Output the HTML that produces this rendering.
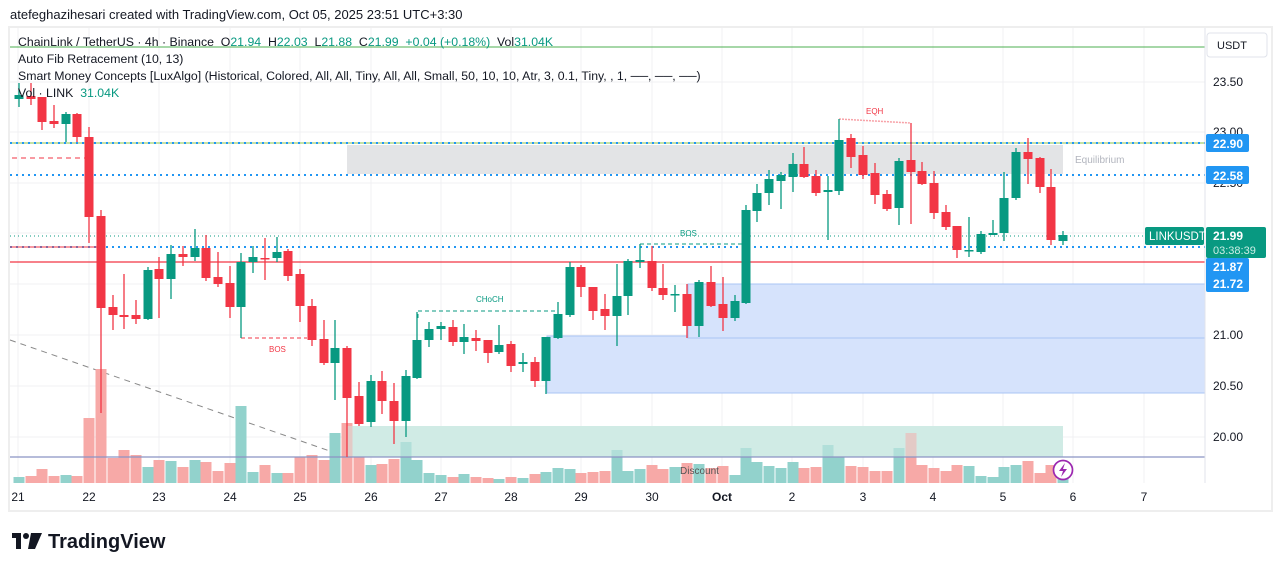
<!DOCTYPE html>
<html><head><meta charset="utf-8"><style>
body{margin:0;background:#fff;width:1281px;height:571px;overflow:hidden;font-family:"Liberation Sans",sans-serif}
svg{position:absolute;left:0;top:0}
text{white-space:pre}
</style></head><body>
<svg id="s" width="1281" height="571" xmlns="http://www.w3.org/2000/svg" font-family="Liberation Sans, sans-serif">
<text x="10" y="19" font-size="13" fill="#131722">atefeghazihesari created with TradingView.com, Oct 05, 2025 23:51 UTC+3:30</text>
<rect x="9" y="27" width="1263" height="484" fill="none" stroke="#eeeeee" stroke-width="2"/>
<g id="grid" stroke="#f0f1f3" stroke-width="1"></g>
<rect x="347" y="145" width="716" height="29" fill="#e3e4e6"/>
<text x="1075" y="163" font-size="10" fill="#b2b5be">Equilibrium</text>
<rect x="547" y="336" width="658" height="57" fill="#d6e3fc" stroke="#a9c4f5"/>
<rect x="688" y="284" width="517" height="54" fill="#d6e3fc" stroke="#a9c4f5"/>
<rect x="347" y="426" width="716" height="31" fill="#d0ebe5"/>
<line x1="10" y1="340" x2="347" y2="457" stroke="#888" stroke-dasharray="6,5"/>
<g id="vol"></g>
<rect x="347" y="426" width="716" height="31" fill="#d0ebe5" opacity="0.5"/>
<line x1="10" y1="457" x2="1205" y2="457" stroke="#8b93c4" stroke-width="1.3"/>
<text x="680" y="474" font-size="10" fill="#555">Discount</text>
<line x1="10" y1="47" x2="1205" y2="47" stroke="#4caf50"/>
<line x1="10" y1="143" x2="1205" y2="143" stroke="#8bc34a" stroke-width="1"/>
<line x1="10" y1="143" x2="1205" y2="143" stroke="#2196f3" stroke-width="2" stroke-dasharray="2,4"/>
<line x1="10" y1="175" x2="1205" y2="175" stroke="#2196f3" stroke-width="2" stroke-dasharray="2,4"/>
<line x1="10" y1="236" x2="1205" y2="236" stroke="#089981" stroke-dasharray="1,3"/>
<line x1="10" y1="247" x2="1205" y2="247" stroke="#2196f3" stroke-width="2" stroke-dasharray="2,4"/>
<line x1="10" y1="247" x2="100" y2="247" stroke="#f23645"/>
<line x1="10" y1="262" x2="1205" y2="262" stroke="#f23645" stroke-width="1.3"/>
<line x1="12" y1="158" x2="85" y2="158" stroke="#f23645" stroke-dasharray="5,4"/>
<polyline points="418,318 418,311 558,311" fill="none" stroke="#089981" stroke-dasharray="4,3"/>
<text x="476" y="302" font-size="8" fill="#089981">CHoCH</text>
<polyline points="640,258 640,244 746,244" fill="none" stroke="#089981" stroke-dasharray="4,3"/>
<text x="680" y="236" font-size="8" fill="#089981">BOS</text>
<line x1="241" y1="338" x2="307" y2="338" stroke="#f23645" stroke-dasharray="4,3"/>
<text x="269" y="352" font-size="8" fill="#f23645">BOS</text>
<line x1="839" y1="119" x2="911" y2="123" stroke="#f7a1a7" stroke-width="1.5" stroke-dasharray="2,1"/>
<text x="866" y="114" font-size="8" fill="#f23645">EQH</text>
<g id="c"></g>
<text x="18" y="46" font-size="12.3" fill="#131722" xml:space="preserve">ChainLink / TetherUS · 4h · Binance  O<tspan fill="#089981">21.94</tspan>  H<tspan fill="#089981">22.03</tspan>  L<tspan fill="#089981">21.88</tspan>  C<tspan fill="#089981">21.99  +0.04 (+0.18%)</tspan>  Vol<tspan fill="#089981">31.04K</tspan></text>
<text x="18" y="63" font-size="12.3" fill="#131722">Auto Fib Retracement (10, 13)</text>
<text x="18" y="80" font-size="12.3" fill="#131722">Smart Money Concepts [LuxAlgo] (Historical, Colored, All, All, Tiny, All, All, Small, 50, 10, 10, Atr, 3, 0.1, Tiny, , 1, ──, ──, ──)</text>
<text x="18" y="97" font-size="12.3" fill="#131722" xml:space="preserve">Vol · LINK  <tspan fill="#089981">31.04K</tspan></text>
<line x1="1205" y1="28" x2="1205" y2="483" stroke="#e0e3eb"/>
<rect x="1207" y="33" width="60" height="24" rx="3" fill="#fff" stroke="#e0e3eb"/>
<text x="1217" y="49" font-size="11" fill="#131722">USDT</text>
<g font-size="12" fill="#131722">
<text x="1213" y="86">23.50</text><text x="1213" y="136">23.00</text><text x="1213" y="187">22.50</text>
<text x="1213" y="339">21.00</text><text x="1213" y="390">20.50</text><text x="1213" y="441">20.00</text>
</g>
<g font-size="12" fill="#131722" text-anchor="middle">
<text x="18" y="501">21</text><text x="89" y="501">22</text><text x="159" y="501">23</text><text x="230" y="501">24</text>
<text x="300" y="501">25</text><text x="371" y="501">26</text><text x="441" y="501">27</text><text x="511" y="501">28</text>
<text x="581" y="501">29</text><text x="652" y="501">30</text><text x="722" y="501" font-weight="bold">Oct</text><text x="792" y="501">2</text>
<text x="863" y="501">3</text><text x="933" y="501">4</text><text x="1003" y="501">5</text><text x="1073" y="501">6</text><text x="1144" y="501">7</text>
</g>
<g font-size="12" font-weight="bold" fill="#fff">
<rect x="1206" y="134" width="43" height="18" rx="2" fill="#2196f3"/><text x="1213" y="148">22.90</text>
<rect x="1206" y="166" width="43" height="18" rx="2" fill="#2196f3"/><text x="1213" y="180">22.58</text>
<rect x="1145" y="227" width="59" height="18" rx="2" fill="#089981"/><text x="1149" y="240" font-weight="normal" font-size="11.5">LINKUSDT</text>
<rect x="1206" y="227" width="60" height="31" rx="2" fill="#089981"/><text x="1213" y="240">21.99</text>
<text x="1213" y="254" font-weight="normal" font-size="11" fill="#cdeee5">03:38:39</text>
<rect x="1206" y="258" width="43" height="34" rx="2" fill="#2196f3"/><text x="1213" y="271">21.87</text><text x="1213" y="288">21.72</text>
</g>
<circle cx="1063" cy="470" r="9.5" fill="#fff" stroke="#9c27b0" stroke-width="1.7"/>
<path d="M1065,463 L1059,471 L1063,471 L1061,477 L1067,469 L1063,469 Z" fill="#9c27b0"/>
<g fill="#131722"><rect x="12" y="533" width="9" height="5"/><rect x="16" y="533" width="5" height="16"/><circle cx="26" cy="536" r="3"/><path d="M31,533 L42,533 L35,549 L28,549 Z"/></g>
<text x="48" y="548" font-size="20" font-weight="bold" fill="#131722">TradingView</text>
</svg>
<script>
const NS="http://www.w3.org/2000/svg";
function el(p,t,a){const e=document.createElementNS(NS,t);for(const k in a)e.setAttribute(k,a[k]);p.appendChild(e);return e;}
const g=document.getElementById('grid');
[82,132,183,233,284,335,386,437].forEach(y=>el(g,'line',{x1:10,x2:1205,y1:y,y2:y}));
[18,89,159,230,300,371,441,511,581,652,722,792,863,933,1003,1073,1144].forEach(x=>el(g,'line',{x1:x,x2:x,y1:28,y2:483}));
const C=[[19,95,99,83,107,1],[31,96,99,83,105,0],[42,97,122,97,130,0],[54,121,124,105,128,0],[66,114,124,112,142,1],[77,114,137,113,142,0],[89,137,217,127,243,0],[101,216,308,210,413,0],[113,307,315,295,330,0],[124,315,317,274,329,0],[136,315,319,300,324,0],[148,270,319,267,320,1],[159,269,279,257,318,0],[171,254,279,245,299,1],[183,254,257,246,266,0],[195,248,257,229,261,1],[206,248,278,235,281,0],[218,277,284,252,287,0],[230,283,307,266,318,0],[241,262,307,253,338,1],[253,257,262,246,273,1],[265,258,259,238,280,0],[277,252,258,237,262,1],[288,251,276,249,281,0],[300,274,306,269,322,0],[312,306,340,299,346,0],[324,339,363,320,365,0],[335,348,363,320,400,1],[347,348,398,346,457,0],[359,396,424,382,426,0],[371,381,422,375,427,1],[382,381,401,371,414,0],[394,401,421,383,444,0],[406,376,421,370,437,1],[417,340,378,312,379,1],[429,329,340,322,347,1],[441,326,329,322,340,1],[453,327,342,320,346,0],[464,337,342,324,354,1],[476,338,341,330,351,0],[488,340,353,340,363,0],[499,345,352,325,354,1],[511,344,366,341,372,0],[523,362,364,353,372,1],[535,362,381,357,387,0],[546,337,381,337,394,1],[558,314,338,302,339,1],[570,267,315,262,317,1],[581,267,287,265,297,0],[593,287,311,287,320,0],[605,309,316,294,330,0],[617,296,316,264,346,1],[628,261,296,259,315,1],[640,260,262,244,268,1],[652,261,288,246,291,0],[663,288,295,264,300,0],[675,294,295,285,312,1],[687,294,326,284,338,0],[699,282,326,280,337,1],[711,282,306,266,307,0],[723,304,318,277,331,0],[735,301,318,295,321,1],[746,210,303,205,304,1],[757,193,211,184,222,1],[769,179,193,170,205,1],[781,175,181,172,209,1],[793,164,177,153,192,1],[804,164,177,147,178,0],[816,176,193,170,196,0],[828,190,192,176,240,1],[839,140,191,119,195,1],[851,138,157,134,168,0],[863,155,175,146,179,0],[875,173,195,163,204,0],[887,194,209,190,211,0],[899,161,208,158,225,1],[911,160,172,123,224,0],[922,171,184,162,185,0],[934,183,213,171,219,0],[946,212,227,205,230,0],[957,226,250,226,258,0],[969,250,251,217,257,1],[981,234,252,231,254,1],[993,233,235,220,235,1],[1004,198,233,172,241,1],[1016,152,198,148,200,1],[1028,152,159,138,184,0],[1040,158,187,157,193,0],[1051,187,240,169,245,0],[1063,235,241,231,245,1]];
const V=[477,476,469,476,475,476,418,369,458,450,455,467,460,461,467,460,462,471,463,406,472,465,473,473,457,455,460,433,423,457,465,464,459,442,460,473,475,477,474,477,478,479,477,478,474,472,468,469,473,472,471,450,471,469,465,469,467,463,464,468,466,475,448,462,466,468,462,468,467,445,457,466,467,471,471,448,433,465,468,471,465,466,476,477,467,465,461,473,465,470];
const vg=document.getElementById('vol'),cg=document.getElementById('c');
C.forEach((c,i)=>{const col=c[5]?'#089981':'#f23645';
 el(vg,'rect',{x:c[0]-5.5,y:V[i],width:11,height:483-V[i],fill:c[5]?'#92d2cc':'#f7a9a7'});
 el(cg,'line',{x1:c[0],x2:c[0],y1:c[3],y2:c[4],stroke:col,'stroke-width':1.3});
 el(cg,'rect',{x:c[0]-4.5,y:c[1],width:9,height:Math.max(1.5,c[2]-c[1]),fill:col});
});
</script>
</body></html>
